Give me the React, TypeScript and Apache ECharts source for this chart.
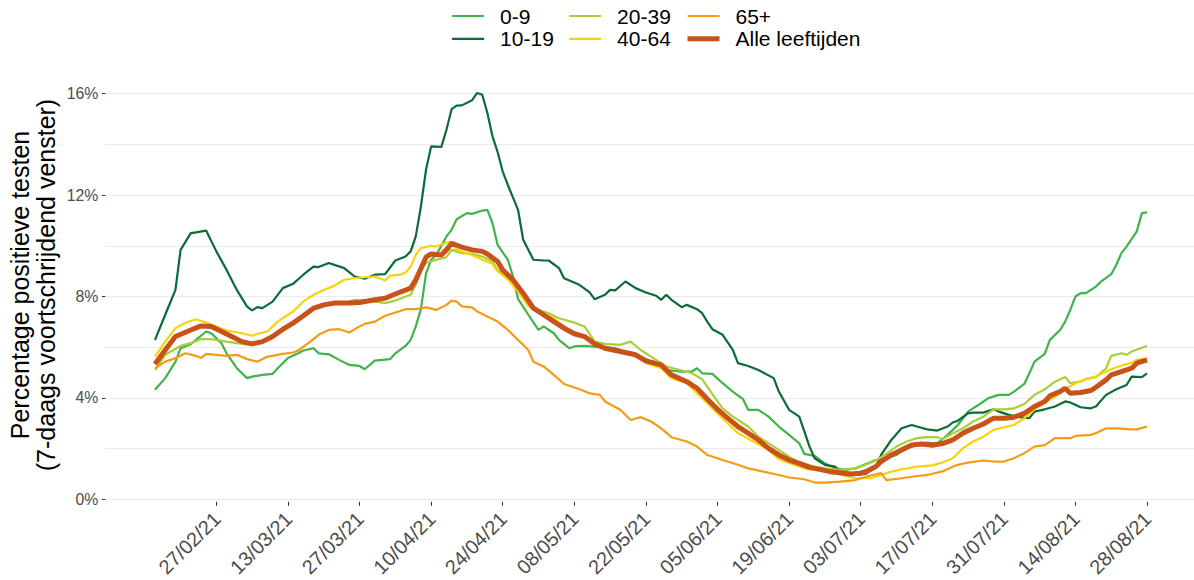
import React, { useEffect, useRef } from 'react';
import * as echarts from 'echarts';

const START = Date.UTC(2021, 1, 15);
const DAY = 86400000;
const FONT = '"Liberation Sans", Arial, Helvetica, sans-serif';

const tickDates = [
  '2021-02-27', '2021-03-13', '2021-03-27', '2021-04-10', '2021-04-24', '2021-05-08', '2021-05-22',
  '2021-06-05', '2021-06-19', '2021-07-03', '2021-07-17', '2021-07-31', '2021-08-14', '2021-08-28',
];
const yTicks = [0, 4, 8, 12, 16];

// [day offset from 15/02/2021, percentage]
const s0_9: [number, number][] = [
  [0,4.32],[2,4.78],[4,5.43],[5,5.96],[7,6.12],[8,6.29],[10,6.62],[11,6.55],[13,6.16],[14,5.76],[16,5.17],[18,4.78],[19,4.84],[21,4.91],[23,4.95],[24,5.17],[26,5.57],[28,5.76],[29,5.87],[31,5.96],[32,5.76],[34,5.72],[36,5.5],[38,5.3],[40,5.26],[41,5.13],[43,5.47],[46,5.53],[47,5.76],[49,6.05],[50,6.29],[51,6.82],[52,7.5],[53,8.9],[54,9.45],[55,9.64],[56,10.0],[57,10.37],[58,10.63],[59,11.05],[61,11.29],[62,11.26],[64,11.39],[65,11.42],[66,10.89],[67,10.04],[69,9.45],[70,8.8],[71,7.9],[72,7.6],[73,7.28],[75,6.68],[76,6.82],[78,6.55],[79,6.29],[81,5.96],[82,6.03],[84,6.05],[87,6.0],[90,5.96],[92,5.83],[95,5.63],[97,5.43],[100,5.1],[103,5.04],[105,5.04],[106,5.17],[107,4.97],[109,4.95],[111,4.58],[113,4.25],[115,3.95],[116,3.53],[118,3.53],[120,3.26],[122,2.87],[124,2.54],[126,2.21],[127,1.79],[129,1.71],[131,1.42],[133,1.22],[135,1.16],[137,1.22],[139,1.39],[141,1.55],[143,1.62],[145,1.75],[147,2.01],[149,2.14],[151,2.24],[153,2.2],[155,2.54],[157,2.93],[159,3.46],[161,3.72],[163,3.99],[165,4.12],[167,4.12],[168,4.25],[170,4.55],[171,4.97],[172,5.43],[174,5.74],[175,6.29],[177,6.68],[178,7.01],[179,7.47],[180,8.0],[181,8.13],[182,8.13],[184,8.39],[185,8.59],[187,8.88],[188,9.25],[189,9.71],[190,9.97],[192,10.57],[193,11.29],[194,11.32],
];
const s10_19: [number, number][] = [
  [0,6.29],[2,7.28],[4,8.26],[5,9.84],[7,10.5],[8,10.53],[10,10.6],[12,9.78],[14,9.05],[16,8.26],[18,7.6],[19,7.45],[20,7.58],[21,7.54],[23,7.8],[25,8.33],[27,8.5],[29,8.86],[31,9.18],[32,9.16],[34,9.32],[37,9.12],[39,8.79],[41,8.7],[43,8.86],[45,8.88],[47,9.42],[49,9.58],[50,9.78],[51,10.37],[52,11.55],[53,13.0],[54,13.92],[56,13.9],[57,14.58],[58,15.39],[59,15.53],[60,15.54],[62,15.74],[63,16.03],[64,15.96],[65,15.24],[66,14.32],[67,13.7],[68,12.93],[69,12.4],[71,11.42],[72,10.24],[74,9.45],[76,9.42],[77,9.42],[79,9.12],[80,8.72],[83,8.46],[85,8.16],[86,7.89],[88,8.07],[89,8.26],[90,8.24],[92,8.59],[94,8.33],[96,8.16],[98,8.03],[99,7.87],[100,8.07],[101,7.87],[103,7.58],[104,7.67],[106,7.5],[107,7.34],[108,7.01],[109,6.71],[111,6.49],[113,5.89],[114,5.37],[116,5.26],[118,5.1],[121,4.78],[122,4.25],[124,3.53],[126,3.26],[127,2.67],[128,2.08],[129,1.62],[131,1.36],[133,1.29],[134,1.09],[136,1.0],[137,0.96],[139,1.0],[141,1.29],[142,1.75],[144,2.34],[146,2.8],[148,2.93],[149,2.87],[151,2.76],[153,2.71],[155,2.87],[156,3.03],[157,3.1],[159,3.39],[160,3.42],[162,3.42],[164,3.55],[165,3.46],[167,3.33],[169,3.24],[171,3.2],[172,3.46],[174,3.55],[176,3.66],[178,3.86],[179,3.82],[181,3.63],[183,3.59],[184,3.66],[186,4.12],[188,4.34],[190,4.51],[191,4.84],[193,4.82],[194,4.97],
];
const s20_39: [number, number][] = [
  [0,5.1],[2,5.7],[5,6.05],[7,6.16],[9,6.32],[11,6.32],[14,6.22],[17,6.13],[19,6.08],[21,6.18],[23,6.38],[25,6.64],[27,6.9],[29,7.18],[31,7.48],[33,7.62],[35,7.7],[37,7.72],[39,7.87],[42,7.84],[45,7.74],[47,7.84],[50,8.07],[51,8.46],[52,9.05],[53,9.32],[55,9.45],[57,9.55],[58,9.84],[60,9.71],[62,9.68],[64,9.58],[66,9.38],[67,9.05],[70,8.59],[72,8.0],[74,7.54],[77,7.34],[79,7.14],[82,6.97],[84,6.82],[86,6.22],[88,6.13],[91,6.09],[93,6.22],[95,5.89],[97,5.63],[100,5.24],[103,5.08],[105,4.97],[107,4.74],[109,4.15],[111,3.59],[113,3.26],[116,2.87],[118,2.47],[121,2.08],[124,1.68],[126,1.45],[129,1.29],[131,1.22],[134,1.16],[137,1.22],[139,1.36],[141,1.53],[143,1.79],[145,2.08],[147,2.28],[149,2.41],[151,2.45],[153,2.45],[154,2.37],[156,2.6],[158,2.8],[160,3.07],[162,3.26],[164,3.55],[166,3.55],[168,3.59],[170,3.76],[172,4.12],[174,4.34],[176,4.64],[178,4.82],[179,4.58],[181,4.64],[182,4.74],[184,4.82],[186,5.17],[187,5.66],[189,5.76],[190,5.7],[191,5.83],[194,6.05],
];
const s40_64: [number, number][] = [
  [0,5.63],[2,6.22],[4,6.75],[6,6.97],[8,7.1],[10,6.97],[12,6.82],[14,6.66],[17,6.55],[19,6.45],[20,6.53],[22,6.62],[24,7.01],[26,7.28],[27,7.41],[29,7.8],[31,8.07],[33,8.26],[35,8.42],[37,8.66],[39,8.72],[41,8.76],[43,8.79],[45,8.63],[46,8.82],[48,8.86],[49,8.95],[50,9.18],[51,9.64],[52,9.91],[54,10.0],[55,9.97],[57,10.13],[58,10.17],[59,9.84],[62,9.64],[64,9.45],[66,9.29],[67,8.99],[69,8.68],[71,8.2],[73,7.61],[75,7.37],[78,7.14],[80,6.82],[82,6.58],[84,6.42],[86,6.09],[88,5.96],[91,5.83],[94,5.63],[96,5.37],[99,5.17],[101,4.78],[104,4.58],[106,4.18],[108,3.79],[110,3.39],[112,3.0],[114,2.61],[117,2.28],[120,1.95],[122,1.58],[125,1.36],[127,1.22],[130,1.13],[133,1.03],[135,0.92],[137,0.83],[140,0.83],[142,0.96],[144,1.09],[146,1.18],[149,1.29],[152,1.34],[154,1.45],[156,1.62],[158,2.01],[160,2.28],[162,2.47],[164,2.74],[166,2.84],[168,2.93],[170,3.2],[172,3.55],[174,3.82],[176,4.05],[178,4.34],[180,4.58],[182,4.74],[184,4.84],[186,5.04],[188,5.21],[191,5.39],[192,5.5],[194,5.55],
];
const s65: [number, number][] = [
  [0,5.17],[2,5.43],[4,5.57],[6,5.76],[8,5.66],[9,5.57],[10,5.74],[12,5.7],[14,5.66],[16,5.7],[18,5.53],[20,5.43],[22,5.63],[23,5.66],[25,5.74],[27,5.79],[28,5.87],[30,6.16],[32,6.49],[34,6.68],[36,6.71],[38,6.58],[40,6.82],[41,6.92],[43,7.01],[45,7.24],[47,7.37],[49,7.5],[51,7.5],[53,7.57],[55,7.47],[57,7.67],[58,7.84],[59,7.8],[60,7.61],[62,7.57],[63,7.41],[65,7.21],[67,7.01],[69,6.68],[71,6.29],[73,5.89],[74,5.43],[76,5.24],[78,4.91],[80,4.55],[83,4.34],[85,4.18],[87,4.12],[88,3.86],[91,3.53],[93,3.13],[95,3.24],[97,3.07],[99,2.8],[101,2.45],[104,2.28],[106,2.08],[108,1.75],[110,1.62],[111,1.55],[114,1.36],[116,1.22],[119,1.09],[122,0.96],[124,0.86],[127,0.79],[129,0.66],[131,0.66],[134,0.7],[137,0.76],[139,0.89],[142,1.03],[143,0.76],[146,0.83],[148,0.89],[151,0.96],[154,1.1],[156,1.28],[157,1.36],[159,1.45],[162,1.53],[164,1.49],[166,1.49],[168,1.62],[170,1.82],[172,2.08],[174,2.14],[176,2.41],[179,2.41],[180,2.5],[183,2.54],[184,2.61],[186,2.8],[188,2.8],[191,2.76],[192,2.76],[194,2.87],
];
const sAlle: [number, number][] = [
  [0,5.34],[2,5.89],[4,6.42],[7,6.68],[9,6.84],[11,6.82],[13,6.62],[15,6.42],[17,6.22],[19,6.13],[21,6.22],[23,6.42],[25,6.71],[27,6.95],[29,7.24],[31,7.54],[33,7.67],[35,7.74],[38,7.74],[40,7.76],[43,7.87],[45,7.93],[47,8.1],[50,8.33],[51,8.66],[52,9.1],[53,9.55],[54,9.68],[56,9.64],[57,9.84],[58,10.1],[60,9.95],[62,9.84],[64,9.78],[65,9.68],[67,9.38],[68,9.05],[70,8.66],[72,8.13],[74,7.54],[76,7.28],[78,7.01],[80,6.75],[82,6.53],[84,6.42],[86,6.13],[88,5.96],[91,5.83],[94,5.7],[96,5.46],[99,5.3],[101,4.91],[104,4.64],[106,4.38],[108,3.96],[110,3.55],[112,3.2],[114,2.87],[116,2.61],[118,2.34],[120,2.01],[122,1.75],[124,1.55],[126,1.42],[128,1.26],[130,1.18],[132,1.09],[134,1.05],[136,1.0],[138,1.03],[139,1.09],[141,1.29],[142,1.49],[144,1.75],[146,1.95],[148,2.14],[150,2.18],[152,2.13],[154,2.2],[156,2.34],[158,2.61],[160,2.8],[162,2.97],[164,3.2],[166,3.2],[168,3.24],[170,3.39],[172,3.66],[174,3.86],[175,4.08],[177,4.25],[178,4.38],[179,4.18],[181,4.21],[183,4.29],[184,4.42],[186,4.71],[187,4.91],[189,5.04],[191,5.17],[192,5.37],[194,5.5],
];

const seriesDefs = [
  { name: '0-9', data: s0_9, color: '#41b34b', width: 2.2 },
  { name: '10-19', data: s10_19, color: '#0b6c37', width: 2.2 },
  { name: '20-39', data: s20_39, color: '#a8cf38', width: 2.2 },
  { name: '40-64', data: s40_64, color: '#f8d30a', width: 2.2 },
  { name: '65+', data: s65, color: '#f59c16', width: 2.2 },
  { name: 'Alle leeftijden', data: sAlle, color: '#c9521b', width: 5 },
];

const legendCols = [
  { names: ['0-9', '10-19'], left: 451 },
  { names: ['20-39', '40-64'], left: 568 },
  { names: ['65+', 'Alle leeftijden'], left: 685 },
];

const dayOf = (s: string) => {
  const [y, m, d] = s.split('-').map(Number);
  return Math.round((Date.UTC(y, m - 1, d) - START) / DAY);
};
const pad = (n: number) => (n < 10 ? '0' + n : '' + n);
const fmtDay = (d: number) => {
  const dt = new Date(START + Math.round(d) * DAY);
  return pad(dt.getUTCDate()) + '/' + pad(dt.getUTCMonth() + 1) + '/' + pad(dt.getUTCFullYear() % 100);
};

export default function App() {
  const ref = useRef<HTMLDivElement>(null);
  useEffect(() => {
    document.body.style.margin = '0';
    const chart = echarts.init(ref.current!, null, { renderer: 'svg' });
    const tickDays = tickDates.map(dayOf);
    const widthOf = (n: string) => seriesDefs.find((s) => s.name === n)!.width;
    const colorOf = (n: string) => seriesDefs.find((s) => s.name === n)!.color;
    const option: any = {
      animation: false,
      backgroundColor: '#ffffff',
      textStyle: { fontFamily: FONT },
      grid: { left: 105.4, right: 0, top: 93.7, bottom: 80.7, containLabel: false },
      legend: legendCols.map((c) => ({
        data: c.names.map((n) => ({
          name: n,
          lineStyle: { width: widthOf(n), color: colorOf(n) },
        })),
        orient: 'vertical',
        left: c.left,
        top: 5.5,
        padding: 0,
        itemWidth: 32,
        itemHeight: 14,
        itemGap: 1.8,
        selectedMode: false,
        itemStyle: { opacity: 0, borderWidth: 0 },
        textStyle: { fontSize: 21, lineHeight: 21, color: '#000000', fontFamily: FONT, padding: [0, 0, 0, 11] },
      })),
      xAxis: {
        type: 'value',
        min: -9.7,
        max: 203.19,
        offset: 2.5,
        axisLine: { show: false, onZero: false },
        axisTick: { show: true, length: 4, lineStyle: { color: '#333333', width: 1 }, customValues: tickDays },
        axisLabel: {
          customValues: tickDays,
          rotate: 45,
          align: 'right',
          verticalAlign: 'top',
          fontSize: 20,
          lineHeight: 2,
          color: '#4d4d4d',
          margin: 13,
          fontFamily: FONT,
          formatter: (v: number) => fmtDay(v),
        },
        splitLine: { show: false },
      },
      yAxis: {
        type: 'value',
        min: 0,
        max: 16,
        interval: 4,
        axisLine: { show: false, onZero: false },
        axisTick: { show: true, length: 3.5, lineStyle: { color: '#333333', width: 1 } },
        axisLabel: {
          formatter: (v: number) => (yTicks.includes(v) ? v + '%' : ''),
          fontSize: 15.8,
          color: '#4d4d4d',
          margin: 7,
          fontFamily: FONT,
        },
        splitLine: { show: true, lineStyle: { color: '#ebebeb', width: 1.1 } },
        minorTick: { show: false, splitNumber: 2 },
        minorSplitLine: { show: true, lineStyle: { color: '#ebebeb', width: 1 } },
      },
      graphic: [
        {
          type: 'text',
          x: 33,
          y: 285,
          rotation: Math.PI / 2,
          style: {
            text: 'Percentage positieve testen\n(7-daags voortschrijdend venster)',
            fontSize: 25,
            lineHeight: 26,
            fontFamily: FONT,
            fill: '#000000',
            align: 'center',
            verticalAlign: 'middle',
          },
        },
      ],
      series: seriesDefs.map((s, i) => ({
        name: s.name,
        type: 'line',
        data: s.data,
        symbol: 'none',
        showSymbol: false,
        clip: false,
        z: 2 + i,
        lineStyle: { color: s.color, width: s.width },
        itemStyle: { color: s.color },
        emphasis: { disabled: true },
        silent: true,
      })),
    };
    chart.setOption(option);
    return () => chart.dispose();
  }, []);
  return <div ref={ref} style={{ width: 1194, height: 580 }} />;
}
